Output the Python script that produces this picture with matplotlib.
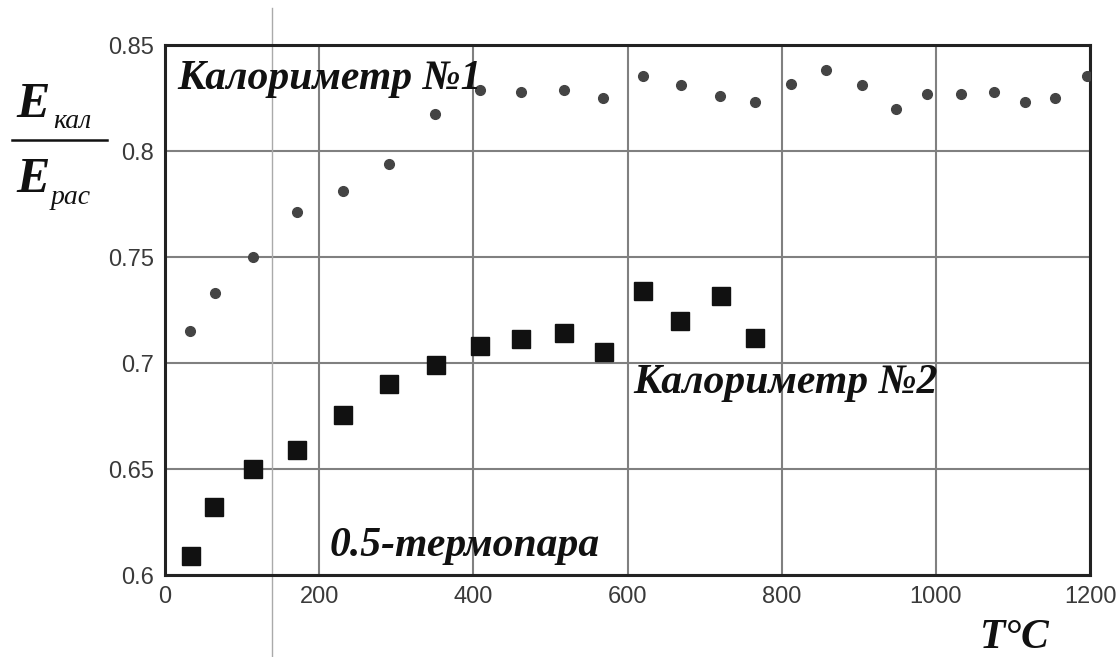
import numpy as np
import matplotlib.pyplot as plt

# Калориметр №1 (кружки)
t1 = [33, 65, 114, 171, 231, 291, 350, 409, 462, 517, 568, 620, 669, 720, 766,
      812, 857, 904, 948, 989, 1033, 1075, 1116, 1155, 1196]
e1 = [0.715, 0.733, 0.750, 0.771, 0.781, 0.794, 0.8175, 0.829, 0.828, 0.829, 0.825,
      0.8355, 0.831, 0.826, 0.823, 0.8315, 0.838, 0.831, 0.820, 0.827, 0.827,
      0.828, 0.823, 0.825, 0.8355]

# Калориметр №2 (квадраты)
t2 = [34, 64, 114, 171, 231, 291, 351, 409, 462, 517, 569, 620, 668, 721, 766]
e2 = [0.609, 0.632, 0.650, 0.659, 0.6755, 0.690, 0.699, 0.708, 0.7115, 0.714,
      0.705, 0.734, 0.720, 0.7315, 0.712]

xticks = [0, 200, 400, 600, 800, 1000, 1200]
yticks = [0.6, 0.65, 0.7, 0.75, 0.8, 0.85]
ytick_labels = ["0.6", "0.65", "0.7", "0.75", "0.8", "0.85"]

W, H = 1120, 657
fig = plt.figure(figsize=(W / 100, H / 100), dpi=100)
ax = fig.add_axes([165 / W, 1 - 575 / H, 925 / W, 530 / H])

serif = ["Liberation Serif", "DejaVu Serif"]
tickfont = ["Liberation Sans Narrow", "Liberation Sans", "DejaVu Sans"]

ax.set_xlim(0, 1200)
ax.set_ylim(0.6, 0.85)
ax.set_xticks(xticks)
ax.set_yticks(yticks)
ax.set_xticklabels([str(v) for v in xticks], family=tickfont, fontsize=17, color="#3a3a3a")
ax.set_yticklabels(ytick_labels, family=tickfont, fontsize=17, color="#3a3a3a")
ax.tick_params(length=0, pad=8)
ax.grid(True, color="#808080", linewidth=1.5)
ax.set_axisbelow(True)
for s in ax.spines.values():
    s.set_color("#222222")
    s.set_linewidth(2.2)

# лишняя вертикальная линия из оригинала
ax.axvline(139, ymin=-0.16, ymax=1.07, color="#aaaaaa", linewidth=1, clip_on=False, zorder=1)

ax.plot(t1, e1, "o", color="#444444", markersize=7, linestyle="none", zorder=3)
ax.plot(t2, e2, "s", color="#111111", markersize=13, linestyle="none", zorder=3)


def px(x, y):
    return x / W, 1 - y / H


fig.text(*px(177, 89), "Калориметр №1", family=serif, style="italic", weight="bold",
         fontsize=30, color="#111111")
fig.text(*px(633, 393), "Калориметр №2", family=serif, style="italic", weight="bold",
         fontsize=30, color="#111111")
fig.text(*px(330, 556), "0.5-термопара", family=serif, style="italic", weight="bold",
         fontsize=30, color="#111111")

# подпись оси Y: дробь E_кал / E_рас
fig.text(*px(16, 117), "E", family=serif, style="italic", weight="bold", fontsize=36, color="#111111")
fig.text(*px(53, 128), "кал", family=serif, style="italic", fontsize=20, color="#111111")
fig.add_artist(plt.Line2D([12 / W, 107 / W], [1 - 140 / H, 1 - 140 / H], color="#111111", linewidth=1.8))
fig.text(*px(16, 192), "E", family=serif, style="italic", weight="bold", fontsize=36, color="#111111")
fig.text(*px(51, 204), "рас", family=serif, style="italic", fontsize=20, color="#111111")

# подпись оси X
fig.text(*px(980, 648), "T°C", family=serif, style="italic", weight="bold", fontsize=30, color="#111111")

fig.savefig("out.png", dpi=100)
